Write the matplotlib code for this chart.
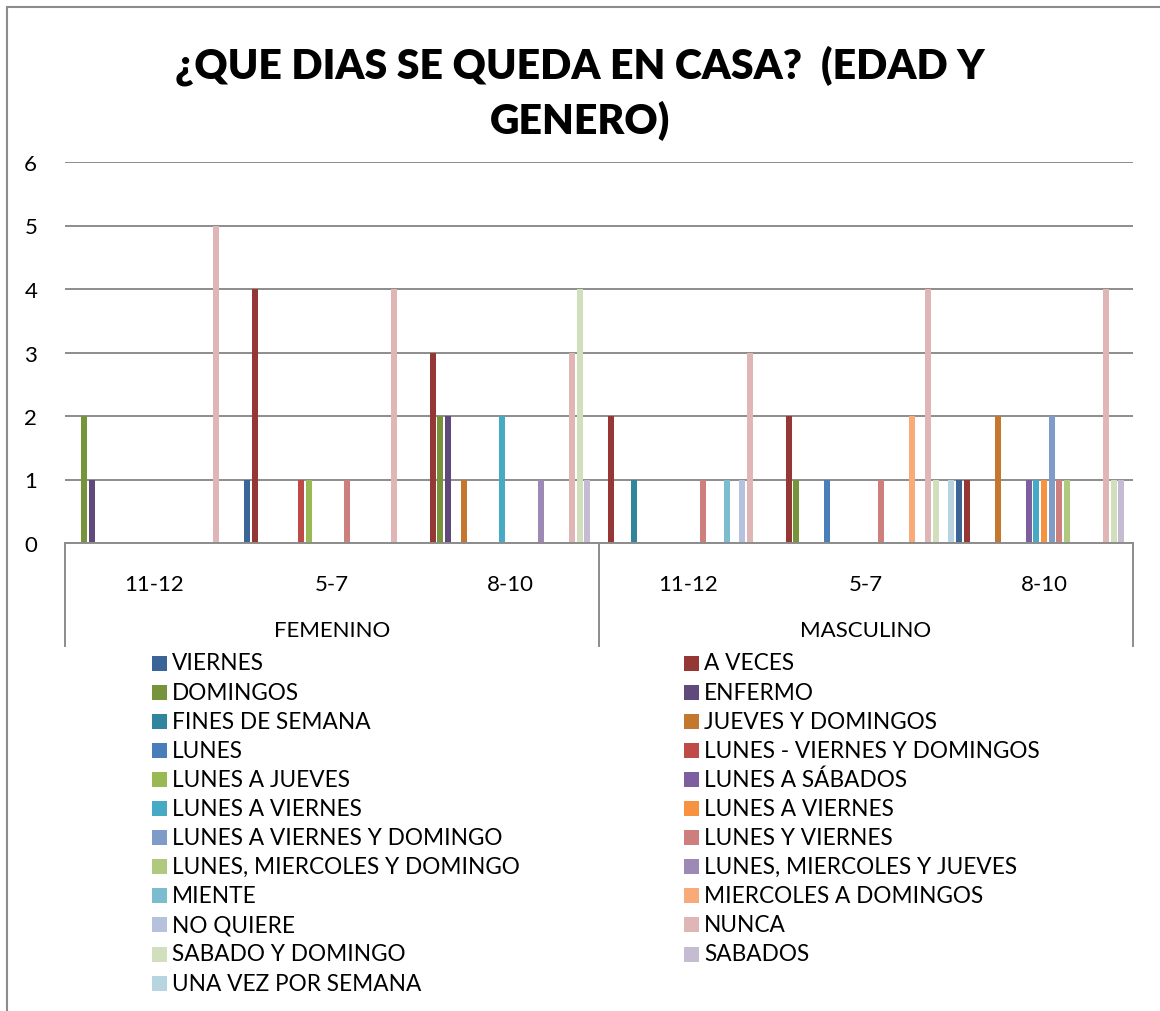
import numpy as np
import matplotlib.pyplot as plt
from matplotlib.patches import Rectangle
import matplotlib.transforms as mtransforms

plt.rcParams['font.family'] = ['Lato', 'DejaVu Sans']

# categories: (genero, edad)
edades = ["11-12", "5-7", "8-10", "11-12", "5-7", "8-10"]
generos = ["FEMENINO", "MASCULINO"]

series = [
    "VIERNES", "A VECES", "DOMINGOS", "ENFERMO", "FINES DE SEMANA",
    "JUEVES Y DOMINGOS", "LUNES", "LUNES - VIERNES Y DOMINGOS",
    "LUNES A JUEVES", "LUNES A SÁBADOS", "LUNES A VIERNES", "LUNES A VIERNES",
    "LUNES A VIERNES Y DOMINGO", "LUNES Y VIERNES",
    "LUNES, MIERCOLES Y DOMINGO", "LUNES, MIERCOLES Y JUEVES", "MIENTE",
    "MIERCOLES A DOMINGOS", "NO QUIERE", "NUNCA", "SABADO Y DOMINGO",
    "SABADOS", "UNA VEZ POR SEMANA",
]

viernes = [0, 1, 0, 0, 0, 1]
a_veces = [0, 4, 3, 2, 2, 1]
domingos = [2, 0, 2, 0, 1, 0]
enfermo = [1, 0, 2, 0, 0, 0]
fines_semana = [0, 0, 0, 1, 0, 0]
jueves_domingos = [0, 0, 1, 0, 0, 2]
lunes = [0, 0, 0, 0, 1, 0]
lunes_vie_dom = [0, 1, 0, 0, 0, 0]
lunes_a_jueves = [0, 1, 0, 0, 0, 0]
lunes_a_sabados = [0, 0, 0, 0, 0, 1]
lunes_a_viernes_1 = [0, 0, 2, 0, 0, 1]
lunes_a_viernes_2 = [0, 0, 0, 0, 0, 1]
lunes_a_vie_y_dom = [0, 0, 0, 0, 0, 2]
lunes_y_viernes = [0, 1, 0, 1, 1, 1]
lun_mie_dom = [0, 0, 0, 0, 0, 1]
lun_mie_jue = [0, 0, 1, 0, 0, 0]
miente = [0, 0, 0, 1, 0, 0]
mier_a_dom = [0, 0, 0, 0, 2, 0]
no_quiere = [0, 0, 0, 1, 0, 0]
nunca = [5, 4, 3, 3, 4, 4]
sabado_domingo = [0, 0, 4, 0, 1, 1]
sabados = [0, 0, 1, 0, 0, 1]
una_vez = [0, 0, 0, 0, 1, 0]

values = [viernes, a_veces, domingos, enfermo, fines_semana, jueves_domingos,
          lunes, lunes_vie_dom, lunes_a_jueves, lunes_a_sabados,
          lunes_a_viernes_1, lunes_a_viernes_2, lunes_a_vie_y_dom,
          lunes_y_viernes, lun_mie_dom, lun_mie_jue, miente, mier_a_dom,
          no_quiere, nunca, sabado_domingo, sabados, una_vez]

colors = ["#3C6597", "#953735", "#77933C", "#604A7B", "#31859C", "#C4772F",
          "#4A7EBB", "#BE4B48", "#98B954", "#7D5FA0", "#46AAC5", "#F69240",
          "#7F9CC8", "#CD7F7E", "#AFC97F", "#9C89B6", "#7BBCCF", "#F8AB78",
          "#B6C2DD", "#DFB6B5", "#D2DFBC", "#C5BCD4", "#B6D5E0"]

W, H = 1160, 1012
fig = plt.figure(figsize=(W / 100, H / 100), dpi=100)
ax = fig.add_axes([65 / W, 1 - 544 / H, (1133 - 65) / W, (544 - 163) / H])

n = len(series)
base = np.arange(len(edades))
for i, (vals, col) in enumerate(zip(values, colors)):
    ax.bar(base + (i + 0.5) / n, vals, width=0.78 / n, color=col, linewidth=0)

ax.set_xlim(0, len(edades))
ax.set_ylim(0, 6)
ax.set_yticks(range(7))
ax.yaxis.grid(True, color="#8C8C8C", linewidth=1.4)
ax.set_axisbelow(True)
for s in ax.spines.values():
    s.set_visible(False)
ax.set_xticks([])
ax.tick_params(axis="y", length=0, pad=20, labelsize=16)

# category axis box
trans = mtransforms.blended_transform_factory(ax.transData, ax.transAxes)
line_kw = dict(color="#8C8C8C", linewidth=1.4, clip_on=False, transform=trans)
ax.plot([0, 6], [0, 0], **line_kw)
for xv in [0, 3, 6]:
    ax.plot([xv, xv], [0, -0.27], **line_kw)
for g, lab in enumerate(edades):
    ax.text(g + 0.5, -0.107, lab, transform=trans, ha="center", va="center",
            fontsize=16)
for k, lab in enumerate(generos):
    ax.text(3 * k + 1.5, -0.228, lab, transform=trans, ha="center",
            va="center", fontsize=16)

# title
fig.text(0.5, 1 - 93 / H, "¿QUE DIAS SE QUEDA EN CASA?  (EDAD Y\nGENERO)",
         ha="center", va="center", fontsize=29.5, fontweight="heavy",
         linespacing=1.45)

# legend, filled row by row in two columns
for i, (name, col) in enumerate(zip(series, colors)):
    row, c = divmod(i, 2)
    xm = (152 if c == 0 else 684)
    yc = 664 + row * 29.1
    fig.add_artist(Rectangle((xm / W, 1 - (yc + 7.5) / H), 15 / W, 15 / H,
                             transform=fig.transFigure, color=col, lw=0))
    fig.text((xm + 20) / W, 1 - yc / H, name, ha="left", va="center",
             fontsize=16.3)

# chart border
fig.add_artist(Rectangle((7 / W, -0.05), 1.2, 1.05 - 8 / H,
                         transform=fig.transFigure, fill=False,
                         edgecolor="#8C8C8C", linewidth=1.5))

fig.savefig("out.png", dpi=100, facecolor="white")
